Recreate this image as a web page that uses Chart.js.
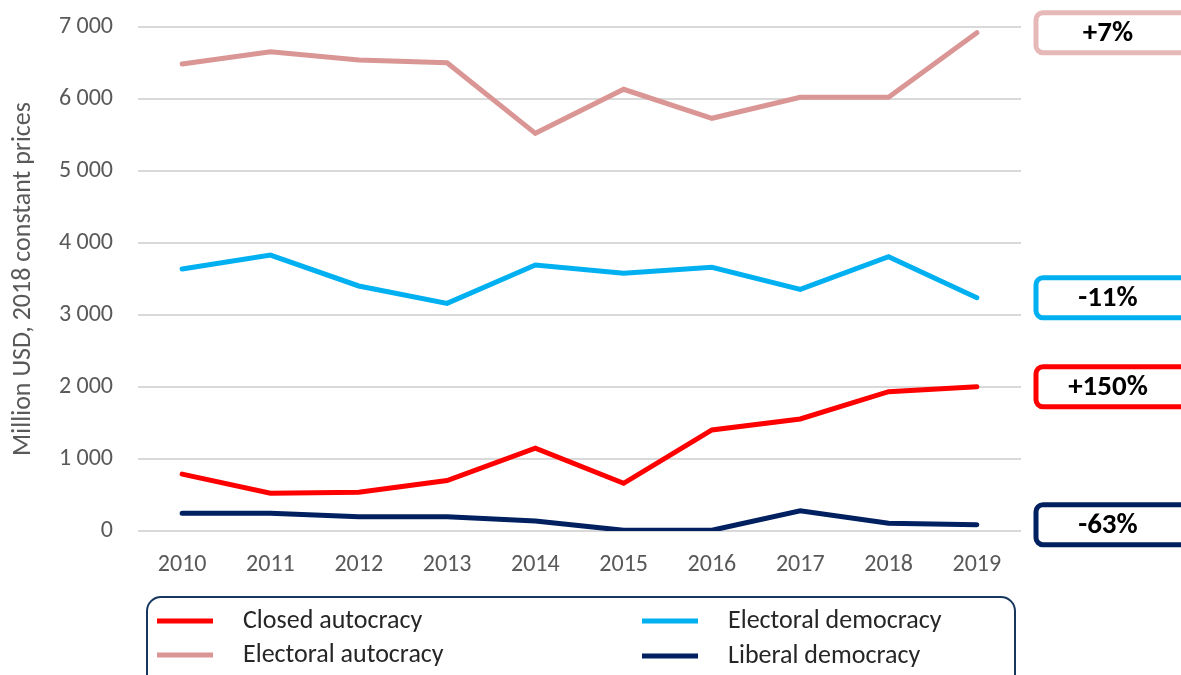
<!DOCTYPE html>
<html lang="en">
<head>
  <meta charset="UTF-8">
  <title>Military spending by regime type</title>
  <script src="https://cdn.jsdelivr.net/npm/chart.js"></script>
  <style>
    body {
      margin: 0;
      padding: 0;
      background: #ffffff;
    }
    #wrap {
      position: relative;
      width: 1181px;
      height: 675px;
    }
  </style>
</head>
<body>
  <div id="wrap">
    <canvas id="regimeChart"></canvas>
  </div>

  <script>
    // Data
    const years = ['2010', '2011', '2012', '2013', '2014', '2015', '2016', '2017', '2018', '2019'];
    const closedAutocracy = [790, 525, 537, 700, 1150, 662, 1403, 1556, 1935, 2004];
    const electoralAutocracy = [6486, 6657, 6542, 6504, 5523, 6135, 5732, 6024, 6024, 6921];
    const electoralDemocracy = [3639, 3833, 3403, 3162, 3694, 3579, 3662, 3356, 3810, 3240];
    const liberalDemocracy = [245, 245, 199, 199, 139, 10, 10, 282, 107, 88];
    const changeLabels = ['+150%', '+7%', '-11%', '-63%'];
    const yTicks = [0, 1000, 2000, 3000, 4000, 5000, 6000, 7000];

    const FONT = 'Carlito, Calibri, Lato, sans-serif';

    function fmt(v) {
      return String(v).replace(/\B(?=(\d{3})+(?!\d))/g, ' ');
    }

    function roundRect(ctx, x, y, w, h, r) {
      ctx.beginPath();
      ctx.moveTo(x + r, y);
      ctx.lineTo(x + w - r, y);
      ctx.arcTo(x + w, y, x + w, y + r, r);
      ctx.lineTo(x + w, y + h - r);
      ctx.arcTo(x + w, y + h, x + w - r, y + h, r);
      ctx.lineTo(x + r, y + h);
      ctx.arcTo(x, y + h, x, y + h - r, r);
      ctx.lineTo(x, y + r);
      ctx.arcTo(x, y, x + r, y, r);
      ctx.closePath();
    }

    // change boxes at the right + the framed legend at the bottom
    const extras = {
      id: 'extras',
      afterDraw(chart) {
        const ctx = chart.ctx;
        const yScale = chart.scales.y;
        const boxColors = ['#FF0000', '#E6B9B8', '#00B0F0', '#002060'];

        chart.data.datasets.forEach((ds, i) => {
          const last = ds.data[ds.data.length - 1];
          const cy = yScale.getPixelForValue(last);
          ctx.save();
          ctx.lineWidth = 5;
          ctx.strokeStyle = boxColors[i];
          ctx.fillStyle = '#ffffff';
          roundRect(ctx, 1036, cy - 20, 160, 40, 7);
          ctx.fill();
          ctx.stroke();
          ctx.fillStyle = '#000000';
          ctx.font = 'bold 29px ' + FONT;
          ctx.textAlign = 'center';
          ctx.textBaseline = 'middle';
          ctx.fillText(changeLabels[i], 1108, cy + 1);
          ctx.restore();
        });

        // legend frame
        ctx.save();
        ctx.lineWidth = 2;
        ctx.strokeStyle = '#17375E';
        roundRect(ctx, 147, 597, 868, 100, 14);
        ctx.stroke();

        const slots = [
          { x: 157, y: 621 },
          { x: 157, y: 655 },
          { x: 642, y: 621 },
          { x: 642, y: 656 }
        ];
        chart.data.datasets.forEach((ds, k) => {
          const s = slots[k];
          ctx.strokeStyle = ds.borderColor;
          ctx.lineWidth = 5;
          ctx.beginPath();
          ctx.moveTo(s.x, s.y);
          ctx.lineTo(s.x + 56, s.y);
          ctx.stroke();
          ctx.fillStyle = '#262626';
          ctx.font = '26px ' + FONT;
          ctx.textAlign = 'left';
          ctx.textBaseline = 'middle';
          ctx.fillText(ds.label, s.x + 86, s.y);
        });
        ctx.restore();
      }
    };

    const ctx = document.getElementById('regimeChart').getContext('2d');
    new Chart(ctx, {
      type: 'line',
      data: {
        labels: years,
        datasets: [
          { label: 'Closed autocracy', data: closedAutocracy, borderColor: '#FF0000' },
          { label: 'Electoral autocracy', data: electoralAutocracy, borderColor: '#D99694' },
          { label: 'Electoral democracy', data: electoralDemocracy, borderColor: '#00B0F0' },
          { label: 'Liberal democracy', data: liberalDemocracy, borderColor: '#002060' }
        ].map(d => Object.assign(d, {
          borderWidth: 5,
          pointRadius: 0,
          tension: 0,
          borderCapStyle: 'round',
          fill: false
        }))
      },
      options: {
        responsive: true,
        maintainAspectRatio: false,
        animation: false,
        layout: {
          autoPadding: false,
          padding: { top: 27, right: 160, bottom: 84, left: 0 }
        },
        plugins: {
          legend: { display: false },
          tooltip: { enabled: false }
        },
        scales: {
          x: {
            offset: true,
            grid: { display: false, drawTicks: false },
            border: { display: false },
            ticks: {
              padding: 20,
              color: '#595959',
              font: { family: FONT, size: 24 }
            },
            afterFit(scale) { scale.height = 60; }
          },
          y: {
            min: 0,
            max: 7000,
            afterBuildTicks(scale) {
              scale.ticks = yTicks.map(v => ({ value: v }));
            },
            grid: { color: '#D9D9D9', lineWidth: 2, drawTicks: false },
            border: { display: false },
            ticks: {
              padding: 25,
              color: '#595959',
              font: { family: FONT, size: 24 },
              callback: v => fmt(v)
            },
            title: {
              display: true,
              text: 'Million USD, 2018 constant prices',
              color: '#595959',
              font: { family: FONT, size: 26 },
              padding: { top: 8, bottom: 0 }
            },
            afterFit(scale) {
              scale.width = 138;
              scale.paddingTop = 0;
              scale.paddingBottom = 0;
            }
          }
        }
      },
      plugins: [extras]
    });
  </script>
</body>
</html>
